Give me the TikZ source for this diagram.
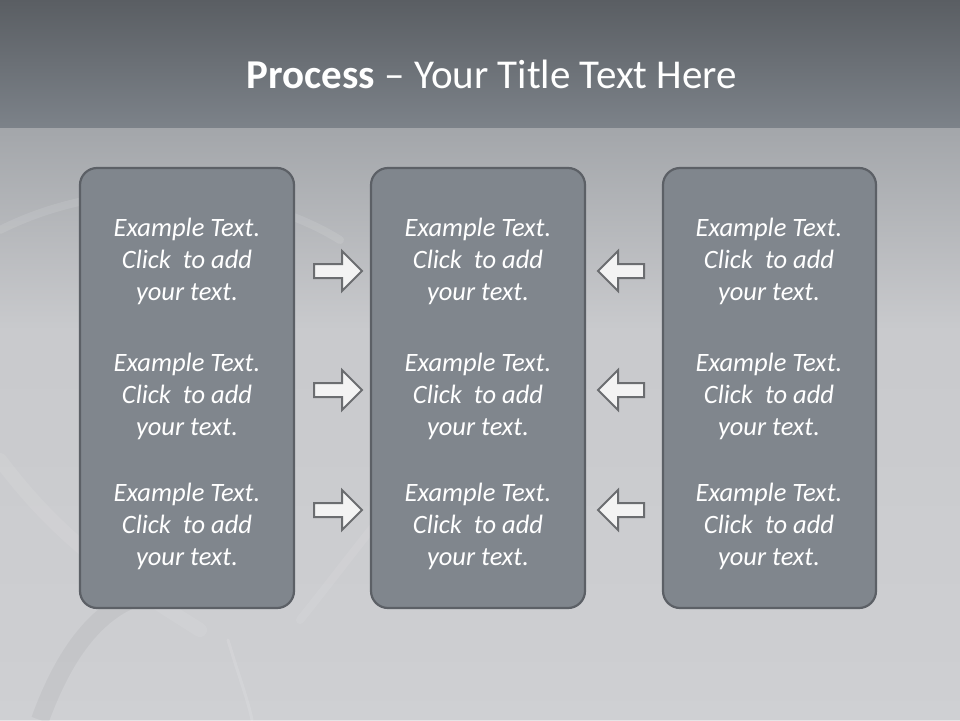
\documentclass[tikz,border=0pt]{standalone}
\usepackage{fontspec}
\setmainfont{Carlito}
\usetikzlibrary{shadings}
\definecolor{hdrtop}{HTML}{5A5E63}
\definecolor{hdrbot}{HTML}{7C8289}
\definecolor{bgtop}{HTML}{A3A6AA}
\definecolor{bgmid}{HTML}{C9CACD}
\definecolor{bgbot}{HTML}{D3D4D7}
\definecolor{boxfill}{HTML}{80868D}
\definecolor{boxline}{HTML}{5C6066}
\definecolor{arrfill}{HTML}{F3F3F3}
\definecolor{arrline}{HTML}{6B6D70}
\tikzset{
  panel/.style={draw=boxline, line width=2.2pt, fill=boxfill, rounded corners=17pt},
  bodytext/.style={text=white, font=\fontsize{26.5}{32}\selectfont\itshape, align=center, inner sep=0pt},
  arrowshape/.style={draw=arrline, fill=arrfill, line width=2pt, line join=miter},
  silk/.style={white, opacity=0.10, line width=8pt, line cap=round}
}
\newcommand{\rarrow}[2]{% tip x, center y
  \draw[arrowshape] (#1-48,#2-7) -- (#1-20,#2-7) -- (#1-20,#2-20) -- (#1,#2) -- (#1-20,#2+20) -- (#1-20,#2+7) -- (#1-48,#2+7) -- cycle;}
\newcommand{\larrow}[2]{% tip x, center y
  \draw[arrowshape] (#1+46,#2-7) -- (#1+20,#2-7) -- (#1+20,#2-20) -- (#1,#2) -- (#1+20,#2+20) -- (#1+20,#2+7) -- (#1+46,#2+7) -- cycle;}
\newcommand{\exampletext}{Example Text.\\Click\ \ to add\\your text.}
\begin{document}
\begin{tikzpicture}[x=1pt,y=-1pt]
\useasboundingbox (0,0) rectangle (960,720);
% background
\shade[top color=bgtop, bottom color=bgmid] (0,127) rectangle (960,330);
\fill[bgmid] (0,329) rectangle (960,720);
\shade[top color=bgmid, bottom color=bgbot, opacity=0.6] (0,330) rectangle (960,720);
% silk swirls
\draw[silk] (0,230) .. controls (120,170) and (260,190) .. (340,240);
\draw[silk, opacity=0.08] (300,620) .. controls (380,520) and (440,430) .. (560,340);
\draw[silk, opacity=0.12, line width=3pt] (228,640) .. controls (240,680) and (248,700) .. (252,720);
\draw[silk, opacity=0.08, line width=14pt] (0,460) .. controls (60,540) and (120,580) .. (200,630);
\draw[black, opacity=0.04, line width=18pt] (40,720) .. controls (80,610) and (140,570) .. (230,600);
% header
\shade[top color=hdrtop, bottom color=hdrbot] (0,0) rectangle (960,127);
\node[text=white, font=\fontsize{41}{46}\selectfont, anchor=base] (title) at (492,88)
  {\textbf{Process} – Your Title Text Here};
% panels
\node[panel, minimum width=214pt, minimum height=440pt, inner sep=0pt] (p1) at (187,388) {};
\node[panel, minimum width=214pt, minimum height=440pt, inner sep=0pt] (p2) at (478,388) {};
\node[panel, minimum width=213pt, minimum height=440pt, inner sep=0pt] (p3) at (769.5,388) {};
% texts
\foreach \cx/\nm in {187/a,478/b,769/c}{
  \foreach \cy/\k in {261/1,396/2,526/3}{
    \node[bodytext] (t\nm\k) at (\cx,\cy) {\exampletext};
  }
}
% arrows
\rarrow{362}{271}
\rarrow{362}{390}
\rarrow{362}{510}
\larrow{598}{271}
\larrow{598}{390}
\larrow{598}{510}
\end{tikzpicture}
\end{document}
